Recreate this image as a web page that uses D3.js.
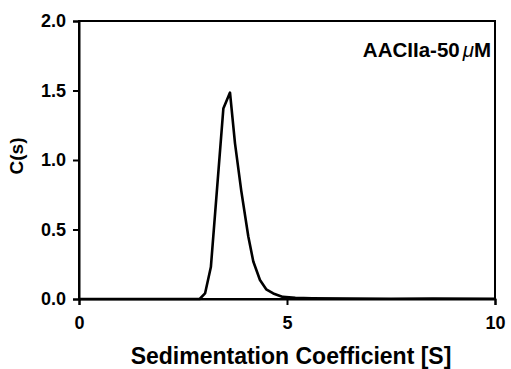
<!DOCTYPE html>
<html><head><meta charset="utf-8">
<script src="https://cdn.jsdelivr.net/npm/d3@7"></script>
<style>body{margin:0;background:#fff}svg{display:block}text{font-family:"Liberation Sans",Arial,sans-serif;font-weight:bold;fill:#000}</style>
</head><body><svg id="c" width="511" height="369"></svg>
<script>
const sValues = [0, 1, 2, 2.9, 3.03, 3.17, 3.47, 3.63, 3.75, 3.9, 4.07, 4.19, 4.35, 4.5, 4.67, 4.9, 5.2, 5.6, 6.5, 7.5, 8.5, 10];
const cValues = [0, 0, 0, 0, 0.04, 0.23, 1.37, 1.485, 1.12, 0.78, 0.45, 0.27, 0.137, 0.07, 0.04, 0.015, 0.008, 0.005, 0.003, 0.002, 0.003, 0.002];
const xTicks = [0, 5, 10];
const yTicks = [0, 0.5, 1.0, 1.5, 2.0];
const xTitle = "Sedimentation Coefficient [S]";
const yTitle = "C(s)";

const svg = d3.select("#c");
const x = d3.scaleLinear().domain([0, 10]).range([79, 495]);
const y = d3.scaleLinear().domain([0, 2]).range([299, 21]);

svg.append("rect").attr("x", x(0)).attr("y", y(2)).attr("width", x(10)-x(0)).attr("height", y(0)-y(2))
  .attr("fill", "none").attr("stroke", "#000").attr("stroke-width", 2);

const xa = svg.append("g").attr("transform", `translate(0,${y(0)})`)
  .call(d3.axisBottom(x).tickValues(xTicks).tickFormat(d3.format("d")).tickSize(6).tickPadding(11));
const ya = svg.append("g").attr("transform", `translate(${x(0)},0)`)
  .call(d3.axisLeft(y).tickValues(yTicks).tickFormat(d3.format(".1f")).tickSize(6).tickPadding(7));
[xa, ya].forEach(a => {
  a.select(".domain").attr("stroke", "#000").attr("stroke-width", 2);
  a.selectAll(".tick line").attr("stroke", "#000").attr("stroke-width", 2);
  a.selectAll("text").style("font-size", "18px").style("font-family", "Liberation Sans, Arial, sans-serif").style("font-weight", "bold").attr("fill", "#000");
});

svg.append("path").datum(sValues.map((s, i) => [s, cValues[i]]))
  .attr("fill", "none").attr("stroke", "#000").attr("stroke-width", 2.6).attr("stroke-linejoin", "round")
  .attr("d", d3.line().x(d => x(d[0])).y(d => y(d[1])));

svg.append("text").attr("x", 291).attr("y", 364).attr("text-anchor", "middle")
  .style("font-size", "23px").text(xTitle);
svg.append("text").attr("transform", `translate(23,156) rotate(-90)`).attr("text-anchor", "middle")
  .style("font-size", "19px").text(yTitle);

const lab = svg.append("text").attr("x", 491).attr("y", 57).attr("text-anchor", "end").style("font-size", "20.5px");
lab.append("tspan").text("AACIIa-50");
lab.append("tspan").style("font-style", "italic").style("font-weight", "normal").attr("dx", 3).text("\u03bc");
lab.append("tspan").text("M");
</script></body></html>
